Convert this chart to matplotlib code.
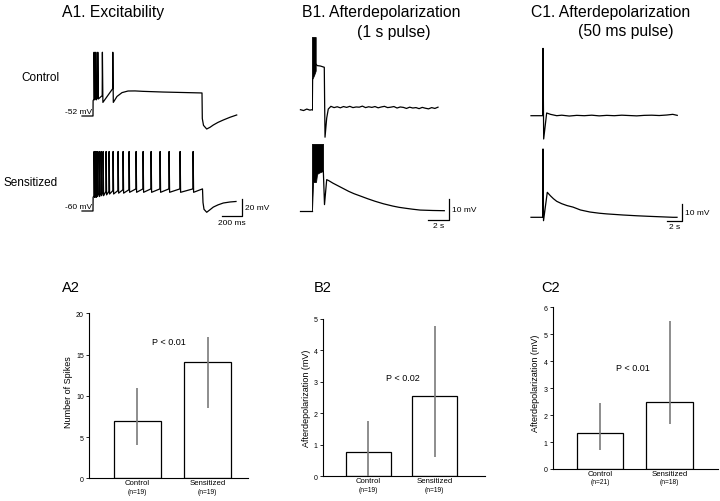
import matplotlib
matplotlib.use("Agg")
import matplotlib.pyplot as plt

plt.rcParams['font.family'] = ['Liberation Sans', 'DejaVu Sans']

W, H = 720, 502

# ---------------- A1: excitability traces (ms, mV) ----------------
a_ctrl_rest = -52
a_ctrl_spike_t = [10, 27, 47, 93, 197]
a_ctrl_spike_foot = [-32, -30, -30, -28, -20]
a_ctrl_spike_peak = [23, 23, 23, 23, 23]
a_ctrl_trough = [-33, -33, -32, -36, -36]
a_ctrl_tail_t = [240, 290, 350, 420, 500, 700, 1090, 1093, 1105, 1137, 1170, 1203,
                 1250, 1303, 1370, 1437]
a_ctrl_tail_v = [-29.0, -24.5, -22.6, -22.5, -23.0, -23.8, -24.9, -55, -63, -67.3,
                 -65.3, -62.6, -59.5, -56.7, -53.5, -50.8]

a_sens_rest = -60
a_sens_spike_t = [10, 25, 40, 60, 80, 100, 130, 160, 200, 250, 300, 360,
                  430, 500, 580, 670, 760, 870, 1000]
a_sens_spike_foot = [-42, -40, -40, -39, -39, -38, -37, -37, -36, -36, -35, -35,
                     -34, -34, -34, -34, -34, -34, -34]
a_sens_spike_peak = [10] * 19
a_sens_trough = [-44, -44, -43, -43, -42, -42, -41, -40, -40, -39, -39, -38,
                 -38, -38, -38, -38, -38, -38, -38]
a_sens_tail_t = [1095, 1100, 1110, 1137, 1170, 1203, 1250, 1303, 1370, 1430]
a_sens_tail_v = [-34, -50, -58, -61.5, -58.5, -55.4, -52.8, -50.6, -49.4, -48.8]

# ---------------- B1: 1 s pulse (s, mV from rest) ----------------
b_ctrl_pre_t = [-1.1, -0.8, -0.5, -0.2, 0.0]
b_ctrl_pre_v = [0.0, -0.4, 0.3, -0.2, 0.0]
b_ctrl_burst_t = [0.0, 0.03, 0.2, 0.35]
b_ctrl_burst_top = [34.6, 34.6, 34.6, 34.6]
b_ctrl_burst_bot = [0.0, 14.6, 16.5, 18.6]
b_ctrl_post_t = [0.35, 0.5, 0.8, 1.17, 1.2, 1.24, 1.4, 1.55,
                 1.8, 2.1, 2.4, 2.7, 3.0, 3.3, 3.6, 3.9, 4.2, 4.5, 4.8, 5.1, 5.4, 5.7,
                 6.0, 6.3, 6.6, 6.9, 7.2, 7.5, 7.8, 8.1, 8.4, 8.7, 9.0, 9.3, 9.6, 9.9,
                 10.2, 10.5, 10.8, 11.1, 11.4, 11.7, 12.0]
b_ctrl_post_v = [21.8, 21.0, 20.8, 20.2, 5.0, -13.1, -4.0, 0.3,
                 1.6, 1.0, 1.4, 0.9, 1.5, 1.1, 1.6, 1.0, 1.3, 1.2, 1.7, 1.0, 1.4, 1.1,
                 1.5, 0.9, 1.3, 1.6, 1.0, 1.2, 1.5, 0.8, 1.3, 1.1, 0.6, 1.2, 0.8, 1.0,
                 0.5, 1.1, 0.7, 0.4, 1.0, 0.6, 1.2]

b_sens_pre_t = [-1.1, 0.0]
b_sens_pre_v = [0.0, 0.0]
b_sens_burst_t = [0.0, 0.1, 0.38, 0.48, 0.7, 1.05]
b_sens_burst_top = [31.8, 31.8, 31.8, 31.8, 31.8, 31.8]
b_sens_burst_bot = [0.0, 13.7, 13.7, 17.5, 18.2, 18.9]
b_sens_post_t = [1.05, 1.08, 1.19, 1.40, 1.6, 2.0, 2.5, 3.0, 3.5, 4.0, 4.6, 5.3, 6.0,
                 6.8, 7.7, 8.3, 9.0, 9.6, 10.3, 11.5, 12.6]
b_sens_post_v = [18.9, 18.9, 2.9, 14.8, 14.3, 13.1, 11.8, 10.5, 9.2, 8.1, 7.0, 5.7, 4.5,
                 3.3, 2.2, 1.6, 1.1, 0.7, 0.3, 0.1, 0.0]

# ---------------- C1: 50 ms pulse (s, mV from rest) ----------------
c_ctrl_t = [-1.6, -0.05, 0.0, 0.09, 0.49, 1.0, 1.83, 2.5, 3.5, 4.5, 5.5, 6.5, 7.5,
            8.5, 9.5, 10.5, 11.5, 12.5, 13.5, 14.5, 15.5, 16.5, 17.3, 17.9]
c_ctrl_v = [0.0, 0.0, 39.6, -13.7, 1.6, 0.8, 0.0, 0.3, -0.2, 0.2, 0.0, 0.3, -0.1,
            0.2, 0.0, 0.3, 0.1, -0.1, 0.2, 0.3, 0.1, 0.4, 0.8, 0.2]
c_sens_t = [-1.6, -0.05, 0.0, 0.07, 0.57, 1.0, 1.4, 1.83, 2.5, 3.2, 4.0, 5.0, 6.27,
            7.5, 8.5, 10.67, 12.5, 14.0, 17.33, 17.87]
c_sens_v = [0.0, 0.0, 40.2, -2.0, 14.7, 12.6, 10.9, 9.4, 8.0, 6.9, 6.0, 4.3, 3.1,
            2.4, 2.0, 1.35, 0.9, 0.6, 0.0, 0.0]

# ---------------- bar charts ----------------
groups = ['Control', 'Sensitized']
a2_n = ['(n=19)', '(n=19)']
a2_mean = [7.0, 14.1]
a2_lo = [4.0, 8.5]
a2_hi = [11.0, 17.1]

b2_n = ['(n=19)', '(n=19)']
b2_mean = [0.76, 2.56]
b2_lo = [0.0, 0.62]
b2_hi = [1.77, 4.77]

c2_n = ['(n=21)', '(n=18)']
c2_mean = [1.32, 2.47]
c2_lo = [0.72, 1.67]
c2_hi = [2.45, 5.48]

fig = plt.figure(figsize=(W / 100, H / 100), dpi=100)
fig.patch.set_facecolor('white')


def fx(x):
    return x / W


def fy(y):
    return 1 - y / H


def px_axes(x0, y0, x1, y1):
    return fig.add_axes([fx(x0), fy(y1), (x1 - x0) / W, (y1 - y0) / H])


def trace_axes(box, origin_px, origin_data, scale):
    x0, y0, x1, y1 = box
    ax = px_axes(x0, y0, x1, y1)
    ox, oy = origin_px
    dx, dy = origin_data
    sx, sy = scale
    ax.set_xlim(dx + (x0 - ox) / sx, dx + (x1 - ox) / sx)
    ax.set_ylim(dy - (y1 - oy) / sy, dy - (y0 - oy) / sy)
    ax.axis('off')
    return ax


def spike_train(rest, t_start, st, foot, peak, trough, tail_t, tail_v):
    t = [t_start, 0, 1]
    v = [rest, rest, foot[0] - 2]
    for ts, f, p, tr in zip(st, foot, peak, trough):
        t += [ts - 1, ts + 1, ts + 6]
        v += [f, p, tr]
    return t + tail_t, v + tail_v


LW = 0.9
TXT = 6

# A1 traces: 0.1 px/ms, 0.85 px/mV
ax = trace_axes((60, 40, 255, 140), (93, 117), (0, a_ctrl_rest), (0.1, 0.85))
t, v = spike_train(a_ctrl_rest, -110, a_ctrl_spike_t, a_ctrl_spike_foot,
                   a_ctrl_spike_peak, a_ctrl_trough, a_ctrl_tail_t, a_ctrl_tail_v)
ax.plot(t, v, color='black', lw=LW)
ax.text(-5, a_ctrl_rest + 1.2, '-52 mV', ha='right', va='bottom', fontsize=TXT)

ax = trace_axes((60, 140, 275, 240), (93, 212), (0, a_sens_rest), (0.1, 0.85))
t, v = spike_train(a_sens_rest, -110, a_sens_spike_t, a_sens_spike_foot,
                   a_sens_spike_peak, a_sens_trough, a_sens_tail_t, a_sens_tail_v)
ax.plot(t, v, color='black', lw=LW)
ax.text(-5, a_sens_rest + 1.2, '-60 mV', ha='right', va='bottom', fontsize=TXT)
ax.plot([1290, 1490, 1490], [-65.9, -65.9, -45.9], color='black', lw=LW)
ax.text(1520, -55.9, '20 mV', ha='left', va='center', fontsize=TXT)
ax.text(1390, -69, '200 ms', ha='center', va='top', fontsize=TXT)

# B1 traces: 10.5 px/s, 2.1 px/mV
ax = trace_axes((290, 30, 450, 150), (312, 110.7), (0, 0), (10.5, 2.1))
ax.plot(b_ctrl_pre_t, b_ctrl_pre_v, color='black', lw=LW)
ax.fill_between(b_ctrl_burst_t, b_ctrl_burst_bot, b_ctrl_burst_top, color='black', lw=0.6)
ax.plot(b_ctrl_post_t, b_ctrl_post_v, color='black', lw=LW)

ax = trace_axes((290, 135, 490, 240), (312, 211.7), (0, 0), (10.5, 2.1))
ax.plot(b_sens_pre_t, b_sens_pre_v, color='black', lw=LW)
ax.fill_between(b_sens_burst_t, b_sens_burst_bot, b_sens_burst_top, color='black', lw=0.6)
ax.plot(b_sens_post_t, b_sens_post_v, color='black', lw=LW)
ax.plot([11.05, 13.05, 13.05], [-4.43, -4.43, 5.57], color='black', lw=LW)
ax.text(13.35, 0.6, '10 mV', ha='left', va='center', fontsize=TXT)
ax.text(12.05, -5.6, '2 s', ha='center', va='top', fontsize=TXT)

# C1 traces: 7.5 px/s, 1.7 px/mV
ax = trace_axes((520, 40, 700, 150), (543, 116.7), (0, 0), (7.5, 1.7))
ax.plot(c_ctrl_t, c_ctrl_v, color='black', lw=LW)

ax = trace_axes((520, 140, 720, 240), (543, 218.3), (0, 0), (7.5, 1.7))
ax.plot(c_sens_t, c_sens_v, color='black', lw=LW)
ax.plot([16.49, 18.49, 18.49], [-2.0, -2.0, 8.0], color='black', lw=LW)
ax.text(18.9, 3.0, '10 mV', ha='left', va='center', fontsize=TXT)
ax.text(17.49, -3.6, '2 s', ha='center', va='top', fontsize=TXT)

# titles and row labels
fig.text(fx(62), fy(13), 'A1. Excitability', ha='left', va='center', fontsize=11.3)
fig.text(fx(301.7), fy(12.3), 'B1. Afterdepolarization', ha='left', va='center', fontsize=11.3)
fig.text(fx(356.7), fy(32.3), '(1 s pulse)', ha='left', va='center', fontsize=11.3)
fig.text(fx(531), fy(12), 'C1. Afterdepolarization', ha='left', va='center', fontsize=11.3)
fig.text(fx(578), fy(32), '(50 ms pulse)', ha='left', va='center', fontsize=11.3)
fig.text(fx(59), fy(78), 'Control', ha='right', va='center', fontsize=8.5)
fig.text(fx(58), fy(183), 'Sensitized', ha='right', va='center', fontsize=8.5)


def bar_panel(box, centers_px, bar_px, ylim, yticks, means, lo, hi, ns,
              ylabel, ylabel_px, ptext, ptext_px, label, label_px):
    x0, y0, x1, y1 = box
    ax = px_axes(x0, y0, x1, y1)
    spacing = centers_px[1] - centers_px[0]
    ax.set_xlim((x0 - centers_px[0]) / spacing, (x1 - centers_px[0]) / spacing)
    ax.set_ylim(*ylim)
    pos = [0, 1]
    ax.bar(pos, means, width=bar_px / spacing, color='white', edgecolor='black',
           linewidth=0.9, zorder=2)
    ax.vlines(pos, lo, hi, color='#7a7a7a', lw=1.2, zorder=3)
    for s in ['top', 'right']:
        ax.spines[s].set_visible(False)
    for s in ['left', 'bottom']:
        ax.spines[s].set_linewidth(0.8)
    ax.set_yticks(yticks)
    ax.tick_params(axis='y', direction='out', length=2.5, width=0.6, labelsize=5, pad=1.5)
    ax.set_xticks([])
    ax.patch.set_alpha(0)
    for i, (g, n) in enumerate(zip(groups, ns)):
        ax.annotate(g, xy=(i, 0), xycoords=('data', 'axes fraction'),
                    xytext=(0, -4.5 * 0.72), textcoords='offset points',
                    ha='center', va='center', fontsize=5.6)
        ax.annotate(n, xy=(i, 0), xycoords=('data', 'axes fraction'),
                    xytext=(0, -13 * 0.72), textcoords='offset points',
                    ha='center', va='center', fontsize=4.8)
    fig.text(fx(ylabel_px[0]), fy(ylabel_px[1]), ylabel, rotation=90,
             ha='center', va='center', fontsize=6.5)
    fig.text(fx(ptext_px[0]), fy(ptext_px[1]), ptext, ha='center', va='center', fontsize=6.5)
    fig.text(fx(label_px[0]), fy(label_px[1]), label, ha='left', va='center', fontsize=10.5)
    return ax


bar_panel((89.3, 314.3, 248.3, 479.3), (137, 207.5), 47, (0, 20), [0, 5, 10, 15, 20],
          a2_mean, a2_lo, a2_hi, a2_n, 'Number of Spikes', (68.3, 391.7),
          'P < 0.01', (169.3, 342.7), 'A2', (61.7, 288.3))
bar_panel((323.3, 320, 485, 477.3), (368.2, 434.8), 45, (0, 5), [0, 1, 2, 3, 4, 5],
          b2_mean, b2_lo, b2_hi, b2_n, 'Afterdepolarization (mV)', (306.7, 398.3),
          'P < 0.02', (402.8, 378.3), 'B2', (313.3, 288.3))
bar_panel((553.3, 308.3, 718.3, 470), (600, 669.7), 46.8, (0, 6), [0, 1, 2, 3, 4, 5, 6],
          c2_mean, c2_lo, c2_hi, c2_n, 'Afterdepolarization (mV)', (536, 383.3),
          'P < 0.01', (633.3, 368.3), 'C2', (541.7, 288.3))

fig.savefig('out.png', dpi=100, facecolor='white')
